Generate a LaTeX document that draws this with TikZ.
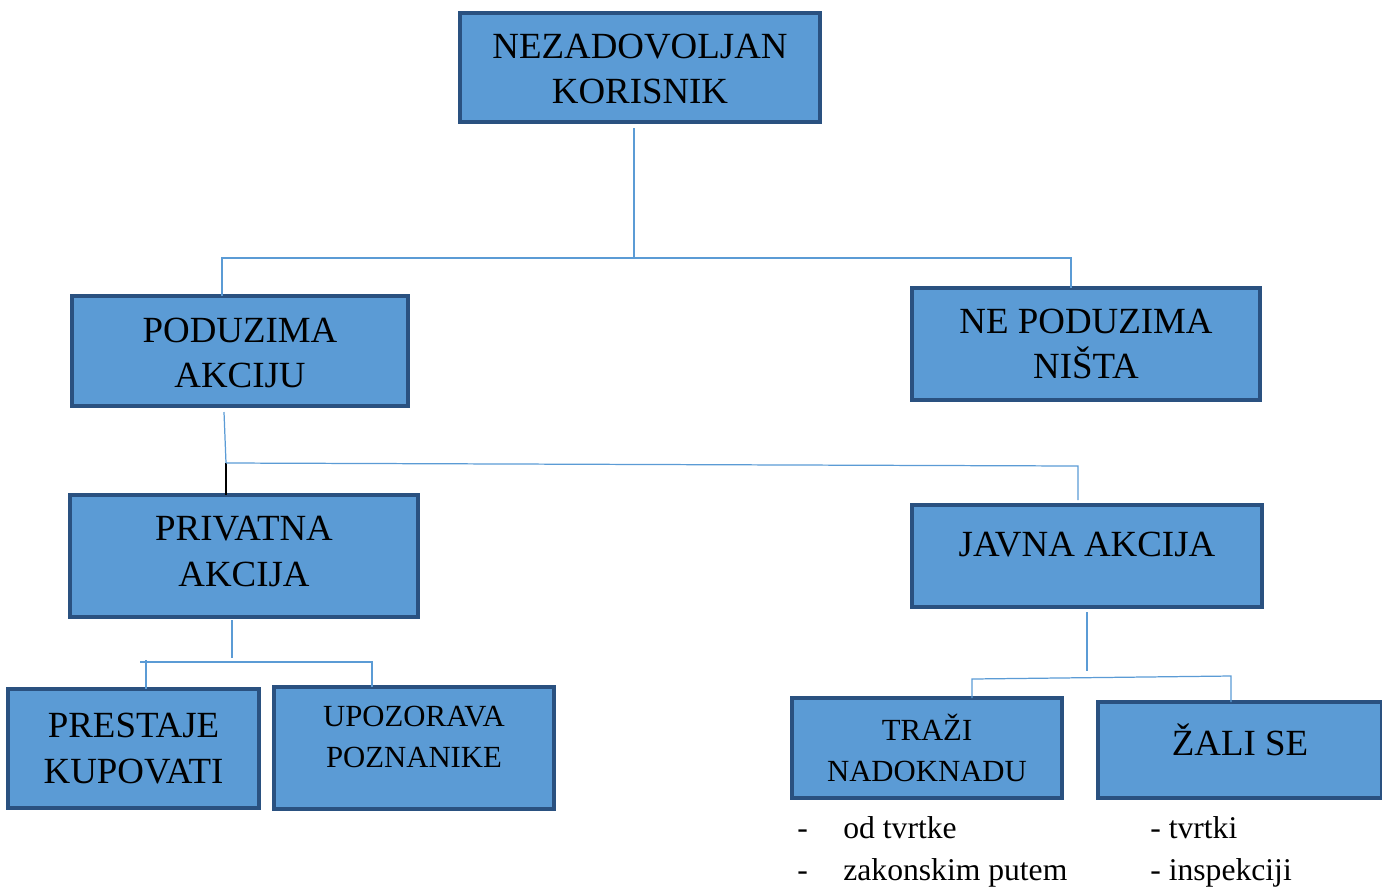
\documentclass[tikz,border=0pt]{standalone}
\usepackage{fontspec}
\setmainfont{Liberation Serif}
\usetikzlibrary{fit}
\usetikzlibrary{calc}
\usetikzlibrary{positioning}
\definecolor{boxfill}{HTML}{5B9BD5}
\definecolor{boxline}{HTML}{2A5180}
\definecolor{linkblue}{HTML}{5B9BD5}
\begin{document}
\begin{tikzpicture}[
  x=0.02cm, y=-0.02cm,
  box/.style={draw=boxline, line width=2pt, fill=boxfill, rectangle},
  conn/.style={linkblue, line width=0.7pt},
  big/.style={font=\fontsize{21}{26}\selectfont, align=center},
  small/.style={font=\fontsize{17.5}{23}\selectfont, align=center},
  note/.style={font=\fontsize{18}{24}\selectfont, anchor=base west, inner sep=0pt},
]
\useasboundingbox (0,0) rectangle (1382,887);
\begin{scope}[inner sep=0pt, outer sep=0pt]
  \node (top) [box, fit={(460,13) (820,122)}, label={[big, yshift=-0.03cm]center:{NEZADOVOLJAN\\KORISNIK}}] {};
  \node (podu) [box, fit={(72,296) (408,406)}, label={[big, yshift=-0.04cm]center:{PODUZIMA\\AKCIJU}}] {};
  \node (nepodu) [box, fit={(912,288) (1260,400)}, label={[big]center:{NE PODUZIMA\\NIŠTA}}] {};
  \node (privat) [box, fit={(70,495) (418,617)}, label={[big, yshift=0.09cm]center:{PRIVATNA\\AKCIJA}}] {};
  \node (javna) [box, fit={(912,505) (1262,607)}, label={[big, yshift=0.22cm]center:{JAVNA AKCIJA}}] {};
  \node (prestaje) [box, fit={(8,689) (259,808)}, label={[big]center:{PRESTAJE\\KUPOVATI}}] {};
  \node (upoz) [box, fit={(274,687) (554,809)}, label={[small, yshift=0.22cm]center:{UPOZORAVA\\POZNANIKE}}] {};
  \node (trazi) [box, fit={(792,698) (1062,798)}, label={[small]center:{TRAŽI\\NADOKNADU}}] {};
  \node (zali) [box, fit={(1098,702) (1382,798)}, label={[big, yshift=0.2cm]center:{ŽALI SE}}] {};
\end{scope}

% bilješke ispod kutija
\node (dasha) [note] at (797,838) {-};
\node (odtv) [note] at (843,838) {od tvrtke};
\node (dashb) [note] at (797,880) {-};
\node (zakon) [note] at (843,880) {zakonskim putem};
\node (tvrtki) [note] at (1150,838) {- tvrtki};
\node (insp) [note] at (1150,880) {- inspekciji};

% prva razina
\coordinate (topfork) at (634,258);
\coordinate (lf) at (222,258);
\coordinate (rf) at (1071,258);
\draw[conn] (top.south) ++(-6,6) -- (topfork);
\draw[conn] (podu.north -| lf) -- (lf) -- (rf) -- (nepodu.north -| rf);

% druga razina
\coordinate (pa) at (226,463);
\coordinate (jb) at (1078,466);
\draw[conn] (podu.south) ++(-16,6) -- (pa);
\draw[black, line width=0.9pt] (pa) -- (privat.north -| pa);
\draw[conn, shorten >=0.1cm] (pa) -- (jb) -- (javna.north -| jb);

% privatna akcija
\coordinate (pb) at (232,658);
\coordinate (pl) at (140,662);
\coordinate (pr) at (372,662);
\coordinate (pk) at (146,660);
\draw[conn] (privat.south) ++(-12,3) -- (pb);
\draw[conn] (pl) -- (pr) -- (upoz.north -| pr);
\draw[conn] (pk) -- (prestaje.north -| pk);

% javna akcija
\coordinate (jc) at (1087,671);
\coordinate (jl) at (972,679);
\coordinate (jr) at (1231,676);
\draw[conn] (javna.south) ++(0,5) -- (jc);
\draw[conn] (trazi.north -| jl) -- (jl) -- (jr) -- (zali.north -| jr);
\end{tikzpicture}
\end{document}
